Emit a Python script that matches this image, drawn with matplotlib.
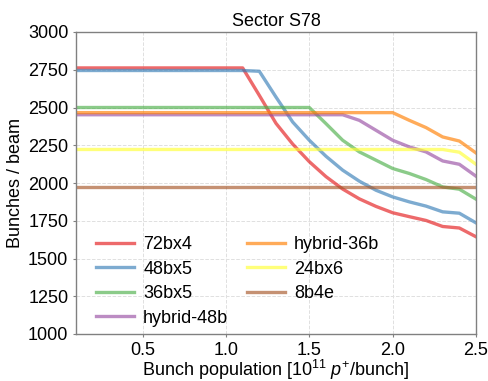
import matplotlib
matplotlib.use("Agg")
import matplotlib.pyplot as plt

plt.rcParams['font.family'] = ['Liberation Sans', 'DejaVu Sans']
plt.rcParams['mathtext.fontset'] = 'custom'
plt.rcParams['mathtext.rm'] = 'Liberation Sans'
plt.rcParams['mathtext.it'] = 'Liberation Sans:italic'

x = [0.1, 0.2, 0.3, 0.4, 0.5, 0.6, 0.7, 0.8, 0.9, 1.0, 1.1, 1.2, 1.3, 1.4, 1.5,
     1.6, 1.7, 1.8, 1.9, 2.0, 2.1, 2.2, 2.3, 2.4, 2.5]

s72bx4 = [2762]*11 + [2580, 2395, 2258, 2141, 2042, 1960, 1895, 1845, 1803, 1777, 1752, 1712, 1702, 1644]
s48bx5 = [2745]*11 + [2740, 2569, 2404, 2283, 2177, 2085, 2012, 1952, 1908, 1875, 1847, 1809, 1800, 1736]
s36bx5 = [2500]*15 + [2393, 2283, 2206, 2151, 2096, 2063, 2023, 1974, 1959, 1893]
hybrid48b = [2452]*17 + [2415, 2349, 2283, 2239, 2206, 2146, 2124, 2045]
hybrid36b = [2466]*20 + [2415, 2367, 2305, 2278, 2199]
s24bx6 = [2222]*23 + [2204, 2124]
s8b4e = [1972]*25

series = [("72bx4", s72bx4), ("48bx5", s48bx5), ("36bx5", s36bx5),
          ("hybrid-48b", hybrid48b), ("hybrid-36b", hybrid36b),
          ("24bx6", s24bx6), ("8b4e", s8b4e)]
colors = ['#e41a1c', '#377eb8', '#4daf4a', '#984ea3', '#ff7f00', '#ffff33', '#a65628']

fig = plt.figure(figsize=(4.89, 3.81), dpi=100)
ax = fig.add_axes([76/489, 1-334/381, 400/489, 302/381])

for (name, vals), c in zip(series, colors):
    ax.plot(x, vals, color=c, alpha=0.65, lw=2.4, label=name)

ax.set_xlim(0.1, 2.5)
ax.set_ylim(1000, 3000)
ax.set_xticks([0.5, 1.0, 1.5, 2.0, 2.5])
ax.set_yticks(range(1000, 3001, 250))
ax.tick_params(length=2.5, width=0.8, color='#808080', labelsize=13, pad=3)
ax.grid(True, ls='--', color='#e0e0e0', lw=0.7)
for sp in ax.spines.values():
    sp.set_color('#808080')
    sp.set_linewidth(1.0)

ax.set_title("Sector S78", fontsize=13, pad=4)
ax.set_xlabel(r"Bunch population [10$^{11}$ $p^{+}$/bunch]", fontsize=13, labelpad=0)
ax.xaxis.set_label_coords(0.5, -0.08)
ax.set_ylabel("Bunches / beam", fontsize=13, labelpad=3)

ax.legend(ncol=2, frameon=False, fontsize=13, loc='lower left',
          bbox_to_anchor=(0.01, -0.03), handlelength=2.1, handletextpad=0.5,
          columnspacing=1.05, labelspacing=0.42)

fig.savefig("out.png", dpi=100)
